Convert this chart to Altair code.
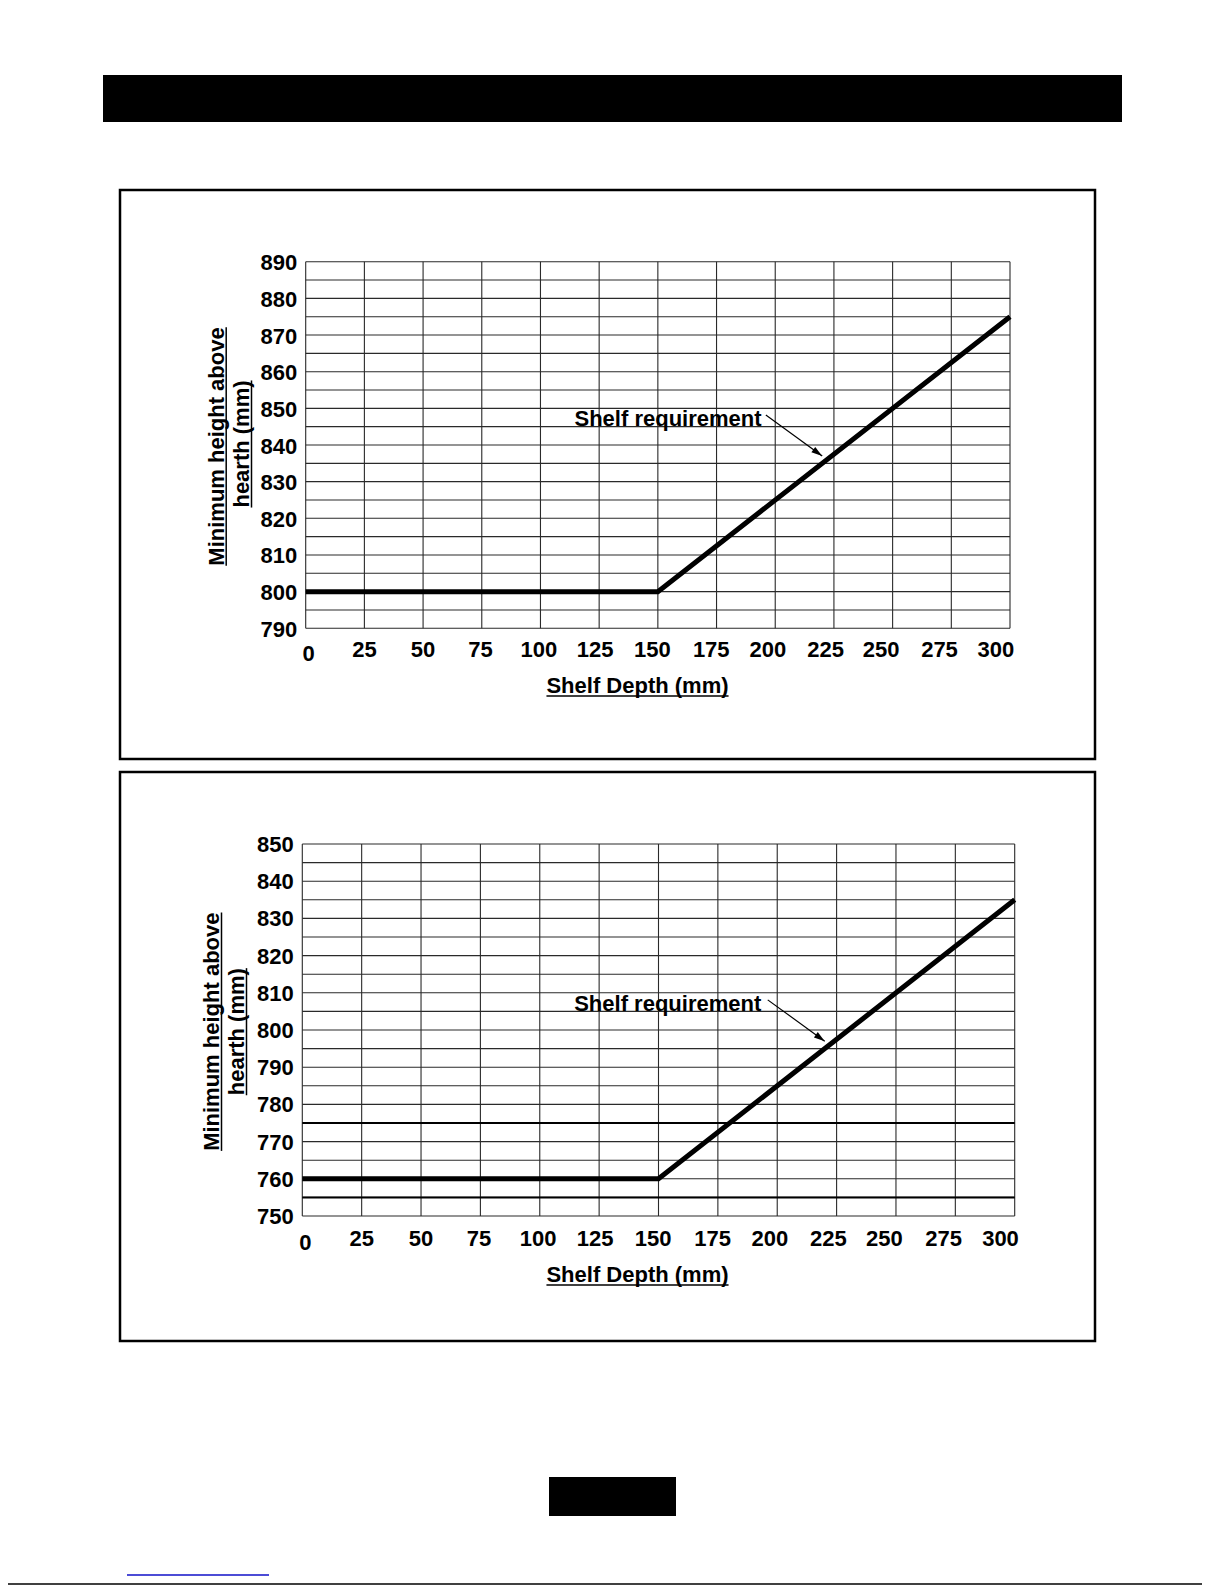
import math
import altair as alt
import pandas as pd

# ---------------- data ----------------
depth = [0, 150, 300]
height_upper = [800, 800, 875]
height_lower = [760, 760, 835]

x_ticks = [0, 25, 50, 75, 100, 125, 150, 175, 200, 225, 250, 275, 300]
y_ticks_upper = [790, 800, 810, 820, 830, 840, 850, 860, 870, 880, 890]
y_grid_upper = [790, 795, 800, 805, 810, 815, 820, 825, 830, 835, 840,
                845, 850, 855, 860, 865, 870, 875, 880, 885, 890]
y_ticks_lower = [750, 760, 770, 780, 790, 800, 810, 820, 830, 840, 850]
y_grid_lower = [750, 755, 760, 765, 770, 775, 780, 785, 790, 795, 800,
                805, 810, 815, 820, 825, 830, 835, 840, 845, 850]
heavy_lower = [755, 775]

x_title = "Shelf Depth (mm)"
y_title = ["Minimum height above", "hearth (mm)"]
annotation = "Shelf requirement"
annot_upper = [114.5, 845.3]            # text anchor (depth, height)
arrow_upper = [196.0, 848.2, 220.0, 837.0]
annot_lower = [114.5, 805.2]
arrow_lower = [196.0, 808.1, 220.0, 797.0]

# ---------------- layout / style (pixels) ----------------
W, H = 1194, 1577
FONT = "Liberation Sans"
GRID = "#2a2a2a"
ONE = pd.DataFrame({"k": [0]})
# pixel nudges of the x tick labels as printed in the original
x_label_nudge = [3, 0, 0, -1.3, -1.6, -4, -5.4, -5.3, -7.4, -8.2, -11.6, -11.8, -14.2]


def panel(heights, y_ticks, y_grid, heavy, xr, yr, ann, arr, xpad, ypad_dy):
    # xr = (left, right), yr = (top, bottom) pixel extents of the plot
    xs = alt.Scale(domain=[x_ticks[0], x_ticks[-1]], range=[xr[0], xr[1]], nice=False, zero=False)
    ys = alt.Scale(domain=[y_grid[0], y_grid[-1]], range=[yr[1], yr[0]], nice=False, zero=False)
    pxx = (xr[1] - xr[0]) / (x_ticks[-1] - x_ticks[0])
    pxy = (yr[1] - yr[0]) / (y_grid[-1] - y_grid[0])

    vgrid = pd.DataFrame({"x": x_ticks, "lo": y_grid[0], "hi": y_grid[-1]})
    hgrid = pd.DataFrame({"y": y_grid, "lo": x_ticks[0], "hi": x_ticks[-1]})
    v = alt.Chart(vgrid).mark_rule(color=GRID, strokeWidth=1.1).encode(
        x=alt.X("x:Q", scale=xs, axis=None),
        y=alt.Y("lo:Q", scale=ys, axis=None),
        y2="hi:Q",
    )
    h = alt.Chart(hgrid).mark_rule(color=GRID, strokeWidth=1.1).encode(
        y=alt.Y("y:Q", scale=ys, axis=None),
        x=alt.X("lo:Q", scale=xs, axis=None),
        x2="hi:Q",
    )
    layers = [h, v]
    if heavy:
        hv = pd.DataFrame({"y": heavy, "lo": x_ticks[0], "hi": x_ticks[-1]})
        layers.append(alt.Chart(hv).mark_rule(color="black", strokeWidth=2).encode(
            y=alt.Y("y:Q", scale=ys, axis=None),
            x=alt.X("lo:Q", scale=xs, axis=None),
            x2="hi:Q",
        ))

    # tick labels (through the scales)
    xl = pd.DataFrame({
        "label": [str(t) for t in x_ticks],
        "pos": [t + n / pxx for t, n in zip(x_ticks, x_label_nudge)],
        "base": y_grid[0],
    })
    lab_style = dict(font=FONT, fontSize=22, fontWeight="bold", color="black")
    xl_rest = alt.Chart(xl.iloc[1:]).mark_text(align="center", baseline="top", dy=xpad, **lab_style).encode(
        x=alt.X("pos:Q", scale=xs, axis=None),
        y=alt.Y("base:Q", scale=ys, axis=None),
        text="label:N",
    )
    xl_first = alt.Chart(xl.iloc[:1]).mark_text(align="center", baseline="top", dy=xpad + 4, **lab_style).encode(
        x=alt.X("pos:Q", scale=xs, axis=None),
        y=alt.Y("base:Q", scale=ys, axis=None),
        text="label:N",
    )
    yl = pd.DataFrame({"label": [str(t) for t in y_ticks], "val": y_ticks, "base": x_ticks[0]})
    yl_layer = alt.Chart(yl).mark_text(align="right", baseline="middle", dx=-8.5, dy=ypad_dy, **lab_style).encode(
        x=alt.X("base:Q", scale=xs, axis=None),
        y=alt.Y("val:Q", scale=ys, axis=None),
        text="label:N",
    )

    line = alt.Chart(pd.DataFrame({"depth": depth, "height": heights})).mark_line(
        color="black", strokeWidth=5, strokeJoin="miter"
    ).encode(
        x=alt.X("depth:Q", scale=xs, axis=None),
        y=alt.Y("height:Q", scale=ys, axis=None),
    )
    txt = alt.Chart(pd.DataFrame({"x": [ann[0]], "y": [ann[1]]})).mark_text(
        align="left", baseline="alphabetic", font=FONT, fontSize=22, fontWeight="bold", color="black"
    ).encode(
        x=alt.X("x:Q", scale=xs, axis=None),
        y=alt.Y("y:Q", scale=ys, axis=None),
        text=alt.value(annotation),
    )
    arrow_df = pd.DataFrame({"x": [arr[0]], "y": [arr[1]], "x2": [arr[2]], "y2": [arr[3]]})
    shaft = alt.Chart(arrow_df).mark_rule(color="black", strokeWidth=1.2).encode(
        x=alt.X("x:Q", scale=xs, axis=None),
        y=alt.Y("y:Q", scale=ys, axis=None),
        x2="x2:Q",
        y2="y2:Q",
    )
    dx = (arr[2] - arr[0]) * pxx
    dy = (arr[1] - arr[3]) * pxy
    ang = math.degrees(math.atan2(dx, -dy)) % 360
    head = alt.Chart(arrow_df).mark_point(
        shape="M0,0L-0.3,1L0.3,1Z", filled=True, color="black", opacity=1, size=480,
        angle=ang, strokeWidth=0,
    ).encode(
        x=alt.X("x2:Q", scale=xs, axis=None),
        y=alt.Y("y2:Q", scale=ys, axis=None),
    )
    return alt.layer(*layers, line, shaft, head, txt, xl_rest, xl_first, yl_layer)


def text_at(s, x, y, angle=0, size=22):
    return alt.Chart(ONE).mark_text(
        text=s, font=FONT, fontSize=size, fontWeight="bold", color="black",
        align="center", baseline="alphabetic", angle=angle,
    ).encode(x=alt.value(x), y=alt.value(y))


def rule_at(x, x2, y, y2, color="black", w=1.5):
    return alt.Chart(ONE).mark_rule(color=color, strokeWidth=w).encode(
        x=alt.value(x), x2=alt.value(x2), y=alt.value(y), y2=alt.value(y2))


def rect_at(x, x2, y, y2, filled=True, w=2.5):
    if filled:
        m = alt.Chart(ONE).mark_rect(color="black", opacity=1)
    else:
        m = alt.Chart(ONE).mark_rect(fill="white", fillOpacity=0, stroke="black", strokeWidth=w)
    return m.encode(x=alt.value(x), x2=alt.value(x2), y=alt.value(y), y2=alt.value(y2))


# text widths (Liberation Sans Bold, 22px)
L1 = 238.4
L2 = 127.1
LX = 182.1

decor = [
    rect_at(95, 1114, 67, 114),                       # header bar
    rect_at(112, 1087, 182, 751, filled=False),      # upper frame
    rect_at(112, 1087, 764, 1333, filled=False),     # lower frame
    rect_at(541, 668, 1469, 1508),                   # page tab
    rule_at(119, 261, 1567, 1567, color="#1010c8", w=1.5),
    rule_at(-8, W, 1576, 1576, color="black", w=1.5),
]

titles = []
for (bx1, cy1, bx2, cy2, tx, ty) in [
    (216.0, 438.5, 241.3, 436.0, 629.5, 684.5),
    (211.3, 1023.7, 236.3, 1023.7, 629.5, 1273.5),
]:
    titles += [
        text_at(y_title[0], bx1, cy1, angle=270),
        rule_at(bx1 + 2.2, bx1 + 2.2, cy1 - L1 / 2, cy1 + L1 / 2),
        text_at(y_title[1], bx2, cy2, angle=270),
        rule_at(bx2 + 2.2, bx2 + 2.2, cy2 - L2 / 2, cy2 + L2 / 2),
        text_at(x_title, tx, ty),
        rule_at(tx - LX / 2, tx + LX / 2, ty + 3.5, ty + 3.5),
    ]

p1 = panel(height_upper, y_ticks_upper, y_grid_upper, [], (297.7, 1002.0), (253.7, 620.3),
           annot_upper, arrow_upper, 11.5, 1.5)
p2 = panel(height_lower, y_ticks_lower, y_grid_lower, heavy_lower, (294.3, 1006.7), (836.0, 1208.0),
           annot_lower, arrow_lower, 13, 1)

chart = alt.layer(*decor, p1, p2, *titles).resolve_scale(
    x="independent", y="independent"
).properties(
    width=W, height=H, padding=0, background="white",
    autosize=alt.AutoSizeParams(type="none"),
).configure_view(stroke=None)

chart.save("out.html", embed_options={"renderer": "svg", "actions": False})
